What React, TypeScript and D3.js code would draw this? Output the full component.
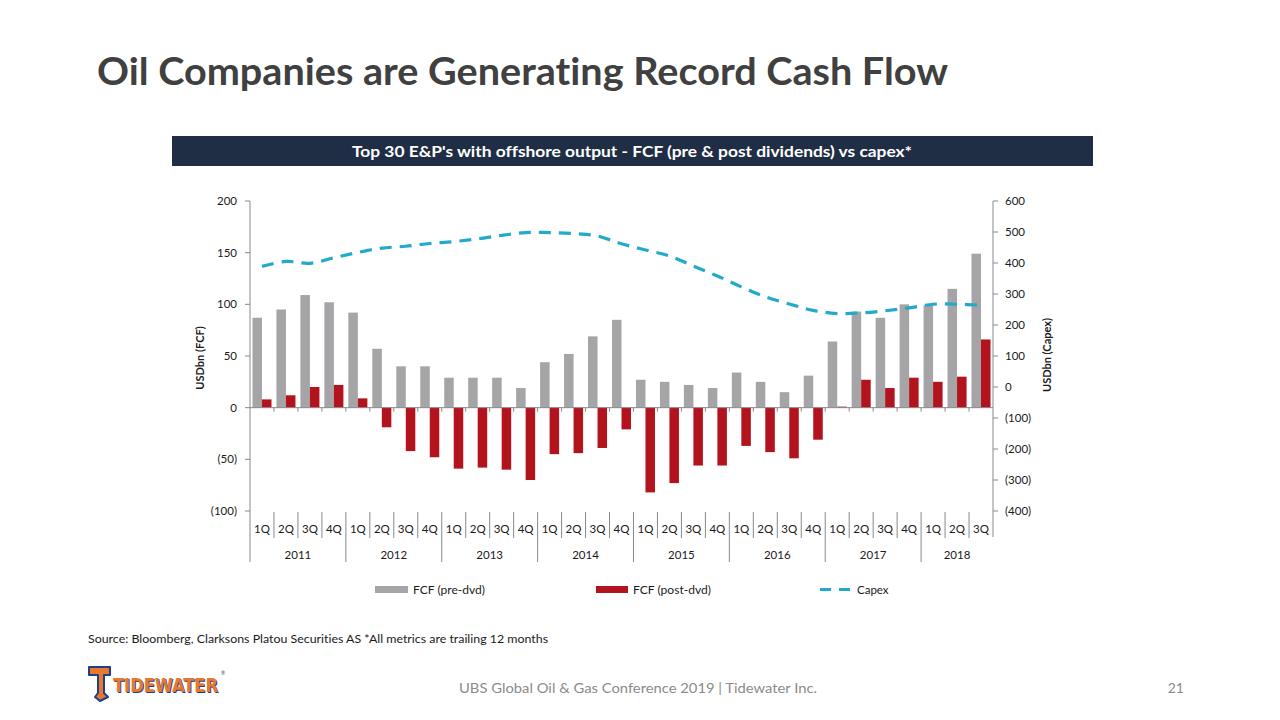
import React from 'react';
import * as d3 from 'd3';

const years = ['2011', '2012', '2013', '2014', '2015', '2016', '2017', '2018'];
const quarters = ['1Q', '2Q', '3Q', '4Q'];
const categories = [
  '2011 1Q', '2011 2Q', '2011 3Q', '2011 4Q',
  '2012 1Q', '2012 2Q', '2012 3Q', '2012 4Q',
  '2013 1Q', '2013 2Q', '2013 3Q', '2013 4Q',
  '2014 1Q', '2014 2Q', '2014 3Q', '2014 4Q',
  '2015 1Q', '2015 2Q', '2015 3Q', '2015 4Q',
  '2016 1Q', '2016 2Q', '2016 3Q', '2016 4Q',
  '2017 1Q', '2017 2Q', '2017 3Q', '2017 4Q',
  '2018 1Q', '2018 2Q', '2018 3Q',
];
const fcfPre = [87, 95, 109, 102, 92, 57, 40, 40, 29, 29, 29, 19, 44, 52, 69, 85, 27, 25, 22, 19, 34, 25, 15, 31, 64, 93, 87, 100, 99, 115, 149];
const fcfPost = [8, 12, 20, 22, 9, -19, -42, -48, -59, -58, -60, -70, -45, -44, -39, -21, -82, -73, -56, -56, -37, -43, -49, -31, 1, 27, 19, 29, 25, 30, 66];
const capex = [389, 405, 399, 417, 434, 448, 454, 463, 469, 478, 489, 498, 498, 495, 487, 462, 442, 423, 390, 358, 323, 291, 268, 247, 237, 239, 246, 255, 267, 267, 264];
const leftTicks = [-100, -50, 0, 50, 100, 150, 200];
const rightTicks = [-400, -300, -200, -100, 0, 100, 200, 300, 400, 500, 600];
const seriesKeys = ['pre', 'post'];

const FONT = 'Lato, "Open Sans", sans-serif';
const GRAY = '#a5a5a7';
const RED = '#b3131c';
const CYAN = '#22a9cb';
const AXIS = '#898989';
const TXT = '#1a1a1a';

const fmt = (v: number) => (v < 0 ? `(${-v})` : `${v}`);

export default function App() {
  const x0 = 250, x1 = 993, yTop = 201, yBot = 511;
  const x = d3.scaleBand<string>().domain(categories).range([x0, x1]).paddingInner(0).paddingOuter(0);
  const inner = d3.scaleBand<string>().domain(seriesKeys).range([0, x.bandwidth()]).paddingInner(0).paddingOuter(0.26);
  const yL = d3.scaleLinear().domain([-100, 200]).range([yBot, yTop]);
  const yR = d3.scaleLinear().domain([-400, 600]).range([yBot, yTop]);
  const bw = x.bandwidth();

  const line = d3
    .line<number>()
    .x((_, i) => (x(categories[i]) as number) + bw / 2)
    .y((d) => yR(d))
    .curve(d3.curveCatmullRom.alpha(0.5));

  const zeroY = yL(0);

  return (
    <div style={{ position: 'absolute', left: 0, top: 0 }}>
      <svg
        width={1280}
        height={720}
        style={{ display: 'block', background: '#fff', fontVariantLigatures: 'none', fontFeatureSettings: '"liga" 0, "clig" 0' }}
        fontFamily={FONT}
      >
        {/* Title */}
        <text x={97} y={85} fontSize={38} fontWeight={700} fill="#404040" textLength={851} lengthAdjust="spacingAndGlyphs">
          Oil Companies are Generating Record Cash Flow
        </text>

        {/* Header bar */}
        <rect x={172} y={136} width={921} height={30} fill="#1f2e45" />
        <text x={632} y={157} fontSize={16} fontWeight={700} fill="#fff" textAnchor="middle" textLength={560} lengthAdjust="spacingAndGlyphs">
          Top 30 E&amp;P's with offshore output - FCF (pre &amp; post dividends) vs capex*
        </text>

        {/* Bars */}
        {categories.map((c, i) => {
          const cx = x(c) as number;
          const pre = fcfPre[i];
          const post = fcfPost[i];
          return (
            <g key={c}>
              <rect x={cx + (inner('pre') as number)} width={inner.bandwidth()} y={Math.min(yL(pre), zeroY)} height={Math.abs(yL(pre) - zeroY)} fill={GRAY} />
              <rect x={cx + (inner('post') as number)} width={inner.bandwidth()} y={Math.min(yL(post), zeroY)} height={Math.abs(yL(post) - zeroY)} fill={RED} />
            </g>
          );
        })}

        {/* Zero line with ticks */}
        <line x1={x0} x2={x1} y1={zeroY} y2={zeroY} stroke={AXIS} strokeWidth={1} />
        {categories.map((c, i) =>
          i === 0 ? null : (
            <line key={'zt' + c} x1={x(c) as number} x2={x(c) as number} y1={zeroY} y2={zeroY + 4} stroke={AXIS} strokeWidth={1} />
          )
        )}

        {/* Capex line */}
        <path d={line(capex) || ''} fill="none" stroke={CYAN} strokeWidth={3.2} strokeDasharray="12 8" />

        {/* Left axis */}
        <line x1={x0} x2={x0} y1={yTop} y2={562} stroke={AXIS} strokeWidth={1} />
        {leftTicks.map((t) => (
          <g key={'l' + t}>
            <line x1={x0 - 5} x2={x0} y1={yL(t)} y2={yL(t)} stroke={AXIS} />
            <text x={237} y={yL(t)} dy="0.35em" fontSize={11.5} fill={TXT} textAnchor="end">
              {fmt(t)}
            </text>
          </g>
        ))}
        <text transform="translate(204,358) rotate(-90)" fontSize={11} fontWeight={700} fill={TXT} textAnchor="middle">
          USDbn  (FCF)
        </text>

        {/* Right axis */}
        <line x1={x1} x2={x1} y1={yTop} y2={537} stroke={AXIS} strokeWidth={1} />
        {rightTicks.map((t) => (
          <g key={'r' + t}>
            <line x1={x1} x2={x1 + 5} y1={yR(t)} y2={yR(t)} stroke={AXIS} />
            <text x={1005} y={yR(t)} dy="0.35em" fontSize={11.5} fill={TXT} textAnchor="start">
              {fmt(t)}
            </text>
          </g>
        ))}
        <text transform="translate(1051,355) rotate(-90)" fontSize={11} fontWeight={700} fill={TXT} textAnchor="middle">
          USDbn  (Capex)
        </text>

        {/* Category axis: quarters and years */}
        {categories.map((c, i) => {
          const cx = x(c) as number;
          const isYearStart = i % 4 === 0;
          return (
            <g key={'cat' + c}>
              {i > 0 && (
                <line x1={cx} x2={cx} y1={512} y2={isYearStart ? 562 : 538} stroke={AXIS} strokeWidth={1} />
              )}
              <text x={cx + bw / 2} y={529} dy="0.35em" fontSize={11.5} fill={TXT} textAnchor="middle">
                {quarters[i % 4]}
              </text>
            </g>
          );
        })}
        {years.map((yr) => {
          const first = categories.findIndex((c) => c.startsWith(yr));
          const count = categories.filter((c) => c.startsWith(yr)).length;
          const start = x(categories[first]) as number;
          const mid = start + (count * bw) / 2;
          return (
            <text key={'y' + yr} x={mid} y={555} dy="0.35em" fontSize={11.5} fill={TXT} textAnchor="middle">
              {yr}
            </text>
          );
        })}

        {/* Legend */}
        <rect x={375} y={586} width={33} height={7} fill={GRAY} />
        <text x={413} y={590} dy="0.35em" fontSize={11.5} fill={TXT} textLength={72} lengthAdjust="spacingAndGlyphs">FCF (pre-dvd)</text>
        <rect x={596} y={586} width={32} height={7} fill={RED} />
        <text x={633} y={590} dy="0.35em" fontSize={11.5} fill={TXT} textLength={78} lengthAdjust="spacingAndGlyphs">FCF (post-dvd)</text>
        <line x1={820} x2={852} y1={589.5} y2={589.5} stroke={CYAN} strokeWidth={3} strokeDasharray="11 8" />
        <text x={857} y={590} dy="0.35em" fontSize={11.5} fill={TXT}>Capex</text>

        {/* Source */}
        <text x={88} y={643} fontSize={11.5} fill={TXT} textLength={460} lengthAdjust="spacingAndGlyphs">
          Source: Bloomberg, Clarksons Platou Securities AS *All metrics are trailing 12 months
        </text>

        {/* Footer */}
        <text x={459} y={693} fontSize={14} fill="#8b8b8b" textLength={358} lengthAdjust="spacingAndGlyphs">
          UBS Global Oil &amp; Gas Conference 2019  |  Tidewater Inc.
        </text>
        <text x={1184} y={693} fontSize={14} fill="#8b8b8b" textAnchor="end">21</text>

        {/* Logo */}
        <g>
          <path
            d="M89,667 L110,667 L110,675 L104,675 L104,693 L108,697 L100,701 L95,697 L98,693 L98,675 L89,675 Z"
            fill="#e8782a"
            stroke="#1d3f8f"
            strokeWidth={2}
            strokeLinejoin="round"
          />
          <text x={113} y={692} fontSize={19} fontWeight={900} fill="#1d3f8f" fontFamily='"Liberation Sans Narrow", "DejaVu Sans Condensed", sans-serif' textLength={105} lengthAdjust="spacingAndGlyphs" transform="translate(1,1)">
            TIDEWATER
          </text>
          <text x={113} y={692} fontSize={19} fontWeight={900} fill="#e8782a" fontFamily='"Liberation Sans Narrow", "DejaVu Sans Condensed", sans-serif' textLength={105} lengthAdjust="spacingAndGlyphs">
            TIDEWATER
          </text>
          <text x={221} y={675} fontSize={5} fill="#1d3f8f">®</text>
        </g>
      </svg>
    </div>
  );
}
